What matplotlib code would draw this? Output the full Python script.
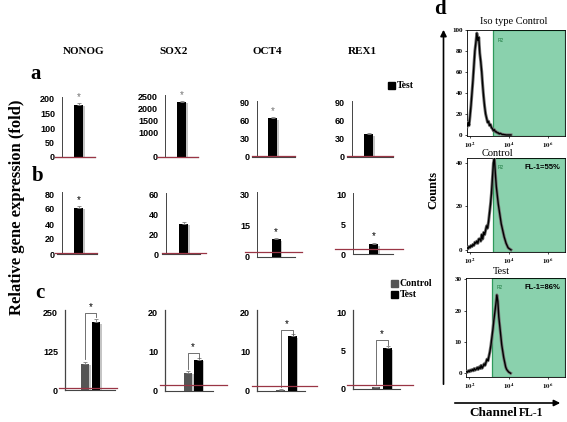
import numpy as np
import matplotlib
matplotlib.use("Agg")
import matplotlib.pyplot as plt
from matplotlib.patches import Rectangle, FancyArrowPatch
import matplotlib.patheffects as pe

plt.rcParams['mathtext.fontset'] = 'stix'

# ---------------- data ----------------
genes = ["NONOG", "SOX2", "OCT4", "REX1"]

# row a : Test only
a_test = [180, 2300, 64.5, 38]
a_err = [5, 40, 2, 1.5]
a_ticks = [[0, 50, 100, 150, 200], [0, 1000, 1500, 2000, 2500], [0, 30, 60, 90], [0, 30, 60, 90]]
a_red = [1, 1, 1, 1]
a_star = [True, True, True, False]

# row b : Test only
b_test = [62, 31, 8.6, 1.7]
b_err = [2, 2, 0.5, 0.2]
b_ticks = [[0, 20, 40, 60, 80], [0, 20, 40, 60], [0, 15, 30], [0, 5, 10]]
b_red = [1, 1, 2.5, 0.8]
b_star = [True, False, True, True]

# row c : Control vs Test
c_control = [85, 4.6, 0.3, 0.2]
c_test = [220, 8.0, 14.0, 5.35]
c_control_err = [6, 0.4, 0.1, 0.1]
c_test_err = [10, 0.5, 0.6, 0.3]
c_ticks = [[0, 125, 250], [0, 10, 20], [0, 10, 20], [0, 5, 10]]
c_red = [7, 1.4, 1.3, 0.5]
c_bracket = [250, 9.6, 15.6, 6.4]

# flow cytometry histograms (log10 channel grid)
flow_titles = ["Iso type Control", "Control", "Test"]
flow_pct = [None, "FL-1=55%", "FL-1=86%"]
flow_log_channel = np.round(np.linspace(1.85, 4.10, 46), 2)
iso_counts = [8, 12, 9, 18, 28, 40, 52, 66, 80, 88,
              97, 90, 93, 78, 70, 60, 47, 36, 27, 20,
              16, 12, 13, 9, 10, 7, 6, 4, 5, 3,
              3, 2, 2, 1, 1.5, 1, 0.5, 0.5, 0.3, 0.2,
              0, 0, 0, 0, 0, 0]
control_counts = [1, 0.5, 1.5, 1, 2, 1.5, 2.5, 2, 3.5, 3,
                  4, 3, 5, 5, 4, 7, 5, 8, 7, 9,
                  11, 10, 13, 17, 21, 26, 33, 40, 42, 35,
                  29, 25, 21, 18, 15, 12, 10, 8, 6, 4.5,
                  3, 2, 1, 0.6, 0.3, 0]
test_counts = [0.5, 0.3, 0.8, 0.5, 1, 0.7, 1.2, 0.8, 1.5, 1,
               1.3, 1.8, 1.2, 2, 1.5, 2.5, 1.6, 2.2, 3, 2.5,
               3.5, 4.5, 4, 5.5, 7, 9, 11.5, 14, 17, 19.5,
               22, 25, 23, 18, 15, 12, 9, 7, 5, 3.5,
               2, 1.2, 0.8, 0.4, 0.2, 0]
flow_counts = [iso_counts, control_counts, test_counts]
flow_yticks = [[0, 20, 40, 60, 80, 100], [0, 20, 40], [0, 10, 20, 30]]
flow_gate_log = 3.16

# ---------------- layout (pixels) ----------------
W, H = 567, 422
fig = plt.figure(figsize=(W / 100, H / 100), dpi=100)
SERIF = "Liberation Serif"
SANS = "Liberation Sans"
RED = "#9a3545"
SPINE = "#444444"


def px_axes(x0, x1, ytop, ybot):
    return fig.add_axes([x0 / W, 1 - ybot / H, (x1 - x0) / W, (ybot - ytop) / H])


GEO = {
    'a': dict(box=[(55, 95), (157, 198), (252, 295), (347, 393)],
              spine=[62, 165, 257, 352],
              base=[(55, 95), (157, 198), (252, 295), (347, 393)],
              tick_px=[99, 97, 103, 103], base_px=[157, 157, 157, 157],
              centers=[[78.5], [181.5], [272.5], [368.5]], bw=9),
    'b': dict(box=[(55, 97), (162, 206), (245, 302), (335, 403)],
              spine=[62, 166, 257, 353],
              base=[(57, 97), (162, 200), (257, 295), (353, 393)],
              tick_px=[194, 195, 194, 195], base_px=[254, 254, 257, 254],
              centers=[[78.5], [183.5], [276], [373.5]], bw=9),
    'c': dict(box=[(59, 117), (160, 227), (252, 317), (347, 413)],
              spine=[65, 165, 257, 353],
              base=[(65, 115), (165, 213), (257, 305), (353, 400)],
              tick_px=[312.7] * 4, base_px=[390, 390.7, 390.7, 389],
              centers=[[85.2, 95.8], [188, 198.5], [280.5, 292.5], [376, 387.5]], bw=8.5),
}


def bar_panel(row, i, values, errs, colors, ticks, red_level, star=False, bracket=None, star_color='black'):
    g = GEO[row]
    x0, x1 = g['box'][i]
    tmax = ticks[-1]
    base_px, tick_px = g['base_px'][i], g['tick_px'][i]
    ymax = tmax * 1.03
    top_px = base_px - (base_px - tick_px) * 1.03
    ax = px_axes(x0, x1, top_px, base_px)
    cs = g['centers'][i]
    unit = (cs[1] - cs[0]) if len(cs) > 1 else 15.0
    pos = np.arange(len(values))
    ax.set_xlim((x0 - cs[0]) / unit, (x1 - cs[0]) / unit)
    ax.set_ylim(0, ymax)
    width = g['bw'] / unit
    bars = ax.bar(pos, values, width=width, color=colors, zorder=3)
    for b in bars:
        b.set_path_effects([pe.SimplePatchShadow(offset=(1.2, -1.2), shadow_rgbFace='0.55', alpha=0.5), pe.Normal()])
    ax.errorbar(pos, values, yerr=[[0] * len(values), errs], fmt='none', ecolor='0.5',
                elinewidth=0.6, capsize=1.2, capthick=0.6, zorder=4)
    for s in ['top', 'right', 'bottom']:
        ax.spines[s].set_visible(False)
    ax.spines['left'].set_position(('axes', (g['spine'][i] - x0) / (x1 - x0)))
    ax.spines['left'].set_color(SPINE)
    ax.spines['left'].set_linewidth(0.9 if row == 'c' else 0.7)
    bx0, bx1 = g['base'][i]
    tr = ax.get_yaxis_transform()
    ax.plot([(bx0 - x0) / (x1 - x0), (bx1 - x0) / (x1 - x0)], [0, 0], transform=tr,
            color=SPINE, lw=0.8, clip_on=False, zorder=2)
    ax.plot([0, 1], [red_level, red_level], transform=tr, color=RED, lw=0.9,
            clip_on=False, zorder=5)
    ax.set_xticks([])
    ax.set_yticks(ticks)
    ax.set_yticklabels([str(t) for t in ticks], fontfamily=SANS, fontweight='bold', fontsize=6.5)
    ax.tick_params(axis='y', length=0, pad=5)
    ax.patch.set_alpha(0)
    if star:
        ax.text(pos[0], values[0] + errs[0] + ymax * 0.02, '*', ha='center', va='bottom',
                fontsize=7, color=star_color, fontfamily=SANS)
    if bracket is not None:
        h = ymax * 0.06
        ax.plot([0, 0, 1, 1], [values[0] + errs[0] + ymax * 0.03, bracket, bracket, bracket - h],
                color='0.35', lw=0.6, clip_on=False, zorder=4)
        ax.text(0.5, bracket + ymax * 0.01, '*', ha='center', va='bottom', fontsize=7,
                fontfamily=SANS, clip_on=False)
    return ax


for i in range(4):
    bar_panel('a', i, [a_test[i]], [a_err[i]], ['black'], a_ticks[i], a_red[i],
              star=a_star[i], star_color='0.45')
    bar_panel('b', i, [b_test[i]], [b_err[i]], ['black'], b_ticks[i], b_red[i],
              star=b_star[i])
    bar_panel('c', i, [c_control[i], c_test[i]], [c_control_err[i], c_test_err[i]],
              ['#555555', 'black'], c_ticks[i], c_red[i], bracket=c_bracket[i])

# gene headers
for gname, xc in zip(genes, [84, 174, 267, 362]):
    fig.text(xc / W, 1 - 51 / H, gname, ha='center', va='center', fontfamily=SERIF,
             fontweight='bold', fontsize=8)

# panel letters
for lab, (x, y) in zip("abcd", [(36, 74), (38, 176), (40, 293), (440, 9)]):
    fig.text(x / W, 1 - y / H, lab, ha='center', va='center', fontfamily=SERIF,
             fontweight='bold', fontsize=15)

fig.text(17 / W, 1 - 207 / H, "Relative gene expression (fold)", rotation=90, ha='center',
         va='center', fontfamily=SERIF, fontweight='bold', fontsize=12)


def legend_item(x, y, color, label):
    fig.add_artist(Rectangle(((x - 3.5) / W, 1 - (y + 3.5) / H), 7 / W, 7 / H,
                             transform=fig.transFigure, color=color))
    fig.text((x + 6) / W, 1 - y / H, label, ha='left', va='center', fontfamily=SERIF,
             fontweight='bold', fontsize=7)


legend_item(391, 85, 'black', 'Test')
legend_item(394, 283.5, '#555555', 'Control')
legend_item(394, 294.5, 'black', 'Test')

# ---------------- flow cytometry panels ----------------
FLOW_GEO = [(466.7, 565, 30, 136), (466.7, 565, 158, 252), (466, 565, 278, 377)]
FLOW_YLIM = [(-1, 100), (-1, 42.3), (-1.2, 30.4)]
TITLE_POS = [(514, 22), (497, 153), (501, 272)]
XLIM = (10 ** 1.83, 10 ** 6.87)
for k in range(3):
    x0, x1, yt, yb = FLOW_GEO[k]
    ax = px_axes(x0, x1, yt, yb)
    ax.set_xscale('log')
    ax.set_xlim(*XLIM)
    ax.set_ylim(*FLOW_YLIM[k])
    ax.axvspan(10 ** flow_gate_log, XLIM[1], facecolor='#8ad1ad', edgecolor='#2f9a5c', lw=0.9, zorder=1)
    ax.plot(10 ** flow_log_channel, flow_counts[k], color='0.45', lw=2.2, zorder=3)
    ax.plot(10 ** flow_log_channel, flow_counts[k], color='black', lw=1.0, zorder=3)
    ax.set_xticks([1e2, 1e4, 1e6])
    ax.set_xticklabels([r'$\mathbf{10^{2}}$', r'$\mathbf{10^{4}}$', r'$\mathbf{10^{6}}$'])
    ax.minorticks_off()
    ax.set_yticks(flow_yticks[k])
    ax.set_yticklabels([str(t) for t in flow_yticks[k]], fontfamily=SERIF, fontweight='bold')
    ax.tick_params(labelsize=5, length=1.5, width=0.5, pad=1.5)
    for s in ax.spines.values():
        s.set_linewidth(0.6)
    ax.text(10 ** (flow_gate_log + 0.4), FLOW_YLIM[k][1] * 0.9, 'R2', fontsize=3.5,
            color='#1e7a40', fontfamily=SANS, ha='center', va='center', zorder=4)
    if flow_pct[k]:
        ax.text(0.95, 0.9, flow_pct[k], transform=ax.transAxes, ha='right', va='center',
                fontsize=5.5, fontweight='bold', fontfamily=SANS, zorder=4)
    tx, ty = TITLE_POS[k]
    fig.text(tx / W, 1 - ty / H, flow_titles[k], ha='center', va='center',
             fontfamily=SERIF, fontsize=7.5)

# arrows and axis captions for d
fig.add_artist(FancyArrowPatch((443.5 / W, 1 - 387 / H), (443.5 / W, 1 - 27 / H),
                               transform=fig.transFigure, arrowstyle='-|>', mutation_scale=9,
                               lw=1.2, color='black'))
fig.text(433 / W, 1 - 190 / H, "Counts", rotation=90, ha='center', va='center',
         fontfamily=SERIF, fontweight='bold', fontsize=9)
fig.add_artist(FancyArrowPatch((452 / W, 1 - 403 / H), (563 / W, 1 - 403 / H),
                               transform=fig.transFigure, arrowstyle='-|>', mutation_scale=9,
                               lw=1.2, color='black'))
fig.text(517 / W, 1 - 413 / H, "Channel", ha='right', va='center', fontfamily=SERIF,
         fontweight='bold', fontsize=9.5)
fig.text(519 / W, 1 - 413 / H, "FL-1", ha='left', va='center', fontfamily=SERIF,
         fontweight='bold', fontsize=8.5)

fig.savefig("out.png", dpi=100)
